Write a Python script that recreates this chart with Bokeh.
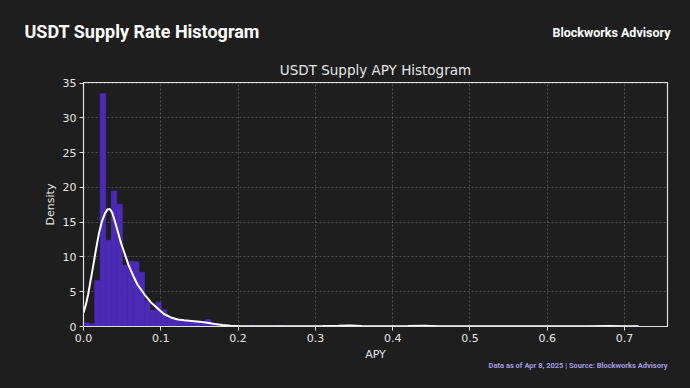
import numpy as np
from bokeh.plotting import figure
from bokeh.layouts import column
from bokeh.models import Range1d, FixedTicker, Label, Title, CustomJSTickFormatter
from bokeh.embed import file_html
from bokeh.resources import INLINE

# ---------------- data ----------------
apy_min = 0.0
apy_max = 0.718
n_bins = 100
density = [0.55, 0.35, 6.6, 33.5, 12.4, 19.5, 17.6, 8.8, 9.4, 9.3,
           7.8, 3.7, 2.3, 3.5, 2.4, 1.2, 1.1, 0.8, 0.75, 0.75,
           0.7, 0.75, 1.0, 0.28, 0.14, 0.14, 0.0, 0.14, 0.0, 0.0,
           0.14, 0.0, 0.0, 0.0, 0.0, 0.14, 0.0, 0.0, 0.0, 0.0,
           0.0, 0.0, 0.0, 0.0, 0.0, 0.0, 0.0, 0.14, 0.0, 0.0,
           0.0, 0.0, 0.0, 0.0, 0.0, 0.0, 0.0, 0.0, 0.0, 0.0,
           0.14, 0.0, 0.0, 0.0, 0.0, 0.0, 0.0, 0.0, 0.0, 0.0,
           0.0, 0.0, 0.0, 0.0, 0.0, 0.0, 0.0, 0.0, 0.0, 0.0,
           0.0, 0.0, 0.0, 0.0, 0.0, 0.0, 0.0, 0.0, 0.0, 0.0,
           0.0, 0.0, 0.0, 0.0, 0.14, 0.0, 0.0, 0.0, 0.0, 0.14]

kde_x = [0.000, 0.003, 0.006, 0.009, 0.013, 0.016, 0.020, 0.024, 0.028, 0.031,
         0.034, 0.037, 0.041, 0.045, 0.048, 0.052, 0.055, 0.058, 0.062, 0.066,
         0.070, 0.079, 0.087, 0.096, 0.104, 0.113, 0.122, 0.130, 0.140, 0.150,
         0.160, 0.170, 0.180, 0.190, 0.200, 0.220, 0.250, 0.280, 0.310, 0.330,
         0.345, 0.360, 0.390, 0.420, 0.440, 0.460, 0.500, 0.550, 0.600, 0.650,
         0.680, 0.700, 0.718]
kde_y = [2.0, 3.1, 4.6, 6.5, 9.0, 11.0, 13.4, 15.2, 16.3, 16.85,
         16.9, 16.4, 15.0, 13.4, 12.2, 10.9, 9.9, 8.9, 7.9, 6.9,
         6.0, 4.6, 3.5, 2.6, 1.8, 1.3, 1.0, 0.9, 0.8, 0.7,
         0.55, 0.35, 0.22, 0.12, 0.07, 0.05, 0.05, 0.05, 0.06, 0.1,
         0.16, 0.08, 0.04, 0.06, 0.1, 0.05, 0.03, 0.03, 0.03, 0.04,
         0.06, 0.04, 0.03]

x_ticks = [0.0, 0.1, 0.2, 0.3, 0.4, 0.5, 0.6, 0.7]
y_ticks = [0, 5, 10, 15, 20, 25, 30, 35]

main_title = "USDT Supply Rate Histogram"
brand = "Blockworks Advisory"
plot_title = "USDT Supply APY Histogram"
footer = "Data as of Apr 8, 2025 | Source: Blockworks Advisory"

# ---------------- style ----------------
BG = "#1e1e1e"
BAR = "#4B2BB5"
TXT = "#e6e6e6"
tick_font = "DejaVu Sans"
HEAD_H = 54

# ---------------- header ----------------
header = figure(width=690, height=HEAD_H, output_backend="svg", toolbar_location=None,
                x_range=Range1d(0, 690), y_range=Range1d(HEAD_H, 0),
                x_axis_type=None, y_axis_type=None, min_border=0)
header.frame_align = False
header.background_fill_color = BG
header.border_fill_color = BG
header.outline_line_color = None
header.grid.visible = False
header.add_layout(Label(x=24, y=31, text=main_title, text_font="Roboto",
                        text_font_style="bold", text_font_size="18px",
                        text_color="white", text_baseline="middle"))
header.add_layout(Label(x=670, y=32, text=brand, text_font="Roboto",
                        text_font_style="bold", text_font_size="12.5px",
                        text_color="white", text_align="right",
                        text_baseline="middle"))

# ---------------- main chart ----------------
edges = np.linspace(apy_min, apy_max, n_bins + 1)

p = figure(width=690, height=388 - HEAD_H, output_backend="svg", toolbar_location=None,
           x_range=Range1d(0, 0.7555), y_range=Range1d(0, 35.1),
           min_border_left=83, min_border_right=23, min_border_top=82 - HEAD_H,
           min_border_bottom=62)
p.frame_align = False
p.background_fill_color = BG
p.border_fill_color = BG
p.outline_line_color = "#e0e0e0"
p.outline_line_width = 1.2

p.title.text = plot_title
p.title.align = "center"
p.title.text_font = "DejaVu Sans"
p.title.text_font_size = "13.5px"
p.title.text_font_style = "normal"
p.title.text_color = TXT
p.title.standoff = 9

p.quad(left=edges[:-1], right=edges[1:], bottom=0, top=density,
       fill_color=BAR, line_color=BAR, line_width=0.6)
p.line(kde_x, kde_y, line_color="white", line_width=2)

for ax in (p.xaxis[0], p.yaxis[0]):
    ax.axis_line_color = "#e0e0e0"
    ax.major_tick_line_color = "#e0e0e0"
    ax.major_tick_out = 4
    ax.major_tick_in = 0
    ax.minor_tick_line_color = None
    ax.major_label_text_color = TXT
    ax.major_label_text_font = tick_font
    ax.major_label_text_font_size = "11px"
    ax.axis_label_text_color = TXT
    ax.axis_label_text_font = tick_font
    ax.axis_label_text_font_size = "11px"
    ax.axis_label_text_font_style = "normal"
    ax.major_label_standoff = 3

p.xaxis.ticker = FixedTicker(ticks=x_ticks)
p.yaxis.ticker = FixedTicker(ticks=y_ticks)
p.xaxis.formatter = CustomJSTickFormatter(code="return tick.toFixed(1);")
p.xaxis.axis_label = "APY"
p.yaxis.axis_label = "Density"
p.xaxis.axis_label_standoff = 3
p.yaxis.axis_label_standoff = 3

p.xgrid.ticker = FixedTicker(ticks=x_ticks[1:])
p.ygrid.ticker = FixedTicker(ticks=y_ticks[1:])
for g in (p.xgrid[0], p.ygrid[0]):
    g.grid_line_color = "#8a8a8a"
    g.grid_line_alpha = 0.6
    g.grid_line_dash = "2 2"
    g.grid_line_width = 0.8

p.add_layout(Title(text=footer, align="right", text_font="Roboto",
                   text_font_style="bold", text_font_size="7.5px",
                   text_color="#a49be0", standoff=-12), "below")

html = file_html(column(header, p, spacing=0), INLINE)
html = html.replace("</head>", "<style>body{background:#1e1e1e;margin:0;}</style></head>", 1)
open("out.html", "w").write(html)
